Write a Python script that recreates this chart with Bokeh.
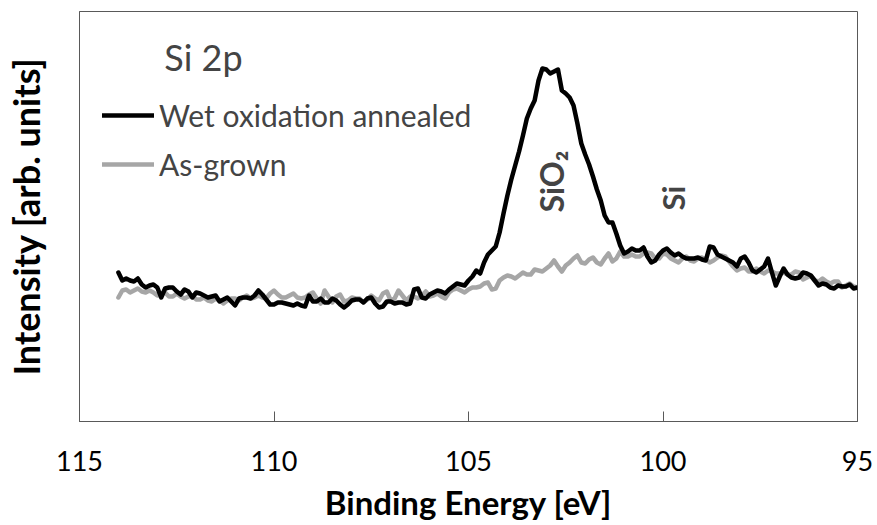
import numpy as np
from math import pi
from bokeh.plotting import figure
from bokeh.models import Range1d, FixedTicker, Label, Legend, LegendItem
from bokeh.embed import file_html
from bokeh.resources import INLINE

# Si 2p XPS spectra, binding energy 114.0 -> 95.0 eV in 0.1 eV steps
energy_ev = np.round(114.0 - 0.1 * np.arange(191), 1)

wet_oxidation_annealed = [
    149, 141, 143, 141, 140, 143, 137, 134, 136, 137,
    134, 124, 133, 134, 134, 130, 127, 132, 130, 124,
    129, 128, 126, 124, 125, 126, 120, 122, 124, 120,
    116, 123, 124, 124, 123, 126, 131, 127, 122, 117,
    117, 119, 119, 118, 117, 116, 118, 116, 115, 126,
    120, 120, 123, 119, 119, 123, 121, 117, 114, 117,
    121, 122, 122, 119, 123, 124, 118, 114, 115, 120,
    120, 118, 119, 119, 117, 118, 132, 133, 124, 123,
    127, 129, 131, 130, 128, 132, 135, 138, 137, 136,
    141, 145, 151, 148, 159, 167, 171, 175, 189, 208,
    226, 242, 256, 270, 286, 303, 313, 321, 341, 353,
    352, 348, 350, 352, 331, 328, 324, 316, 298, 278,
    267, 257, 245, 232, 221, 206, 199, 199, 188, 176,
    168, 170, 173, 171, 171, 174, 165, 159, 161, 167,
    171, 173, 169, 166, 168, 165, 163, 163, 163, 164,
    162, 161, 175, 174, 167, 165, 163, 161, 159, 155,
    163, 165, 159, 151, 149, 152, 155, 163, 149, 136,
    145, 153, 147, 144, 143, 144, 149, 148, 146, 141,
    136, 138, 137, 134, 133, 136, 135, 135, 137, 133,
    134,
]

as_grown = [
    124, 131, 132, 129, 131, 133, 130, 129, 131, 129,
    126, 127, 129, 125, 125, 128, 125, 123, 125, 126,
    122, 122, 124, 121, 120, 123, 121, 118, 121, 123,
    123, 121, 124, 126, 123, 124, 126, 124, 123, 128,
    131, 127, 124, 124, 126, 128, 124, 123, 124, 127,
    129, 123, 118, 131, 125, 119, 125, 127, 120, 121,
    124, 123, 123, 119, 122, 126, 123, 121, 128, 130,
    121, 123, 131, 126, 121, 125, 125, 123, 126, 130,
    125, 126, 128, 125, 123, 129, 132, 133, 131, 129,
    132, 134, 134, 135, 138, 139, 132, 133, 141, 144,
    146, 145, 143, 146, 149, 147, 147, 152, 151, 150,
    153, 156, 161, 155, 150, 156, 159, 163, 166, 159,
    158, 162, 164, 159, 157, 163, 168, 160, 163, 170,
    165, 165, 167, 165, 165, 168, 169, 168, 163, 163,
    168, 167, 163, 161, 159, 163, 165, 161, 160, 163,
    164, 162, 159, 161, 164, 166, 165, 160, 155, 151,
    153, 154, 150, 150, 153, 150, 148, 151, 150, 148,
    148, 149, 147, 147, 150, 149, 142, 144, 146, 141,
    140, 143, 140, 138, 140, 140, 134, 136, 138, 135,
    134,
]

x_ticks = [115, 110, 105, 100, 95]
series_names = ["Wet oxidation annealed", "As-grown"]

FONT = "Lato"

p = figure(
    width=877, height=525,
    output_backend="svg", toolbar_location=None,
    x_range=Range1d(115, 95), y_range=Range1d(0, 410),
    min_border_left=77, min_border_right=20,
    min_border_top=11, min_border_bottom=104,
)
p.background_fill_color = "white"
p.border_fill_color = "white"
p.outline_line_color = "#595959"
p.outline_line_width = 1
p.grid.visible = False

# bottom axis: ticks pointing inward
xa = p.xaxis[0]
xa.ticker = FixedTicker(ticks=x_ticks)
xa.major_tick_in = 10
xa.major_tick_out = 0
xa.minor_tick_line_color = None
xa.axis_line_color = "#595959"
xa.major_tick_line_color = "#595959"
xa.major_label_text_font = FONT
xa.major_label_text_font_size = "27px"
xa.major_label_text_color = "black"
xa.major_label_standoff = 29
xa.axis_label = "Binding Energy [eV]"
xa.axis_label_text_font = FONT
xa.axis_label_text_font_style = "bold"
xa.axis_label_text_font_size = "33px"
xa.axis_label_text_color = "black"
xa.axis_label_standoff = 8

# left axis: only the title
ya = p.yaxis[0]
ya.ticker = FixedTicker(ticks=[])
ya.major_tick_out = 0
ya.major_tick_in = 0
ya.minor_tick_line_color = None
ya.axis_line_color = "#595959"
ya.axis_label = "Intensity [arb. units]"
ya.axis_label_text_font = FONT
ya.axis_label_text_font_style = "bold"
ya.axis_label_text_font_size = "36px"
ya.axis_label_text_color = "black"
ya.axis_label_standoff = 32

r_wet = p.line(energy_ev, wet_oxidation_annealed, line_color="black",
               line_width=4.5, line_join="round", line_cap="round")
r_grown = p.line(energy_ev, as_grown, line_color="#a6a6a6",
                 line_width=4.5, line_join="round", line_cap="round")
# annealed trace drawn on top
p.renderers = [r_grown, r_wet]

legend = Legend(
    items=[LegendItem(label=series_names[0], renderers=[r_wet]),
           LegendItem(label=series_names[1], renderers=[r_grown])],
    location=(23, 235), padding=0, margin=0, spacing=5,
    glyph_width=52, glyph_height=44, label_height=44, label_standoff=5,
    label_text_font=FONT, label_text_font_size="30px",
    border_line_color=None, background_fill_alpha=0,
)
p.add_layout(legend)

p.add_layout(Label(x=112.82, y=365, text="Si 2p", text_font=FONT,
                   text_font_size="36px", text_baseline="alphabetic"))

# peak assignments
p.add_layout(Label(x=102.87, y=209, text="SiO\u2082", angle=pi / 2,
                   text_font=FONT, text_font_style="bold", text_font_size="32px",
                   text_align="left", text_baseline="middle"))
p.add_layout(Label(x=99.74, y=211, text="Si", angle=pi / 2,
                   text_font=FONT, text_font_style="bold", text_font_size="31px",
                   text_align="left", text_baseline="middle"))

open("out.html", "w").write(file_html(p, INLINE))
